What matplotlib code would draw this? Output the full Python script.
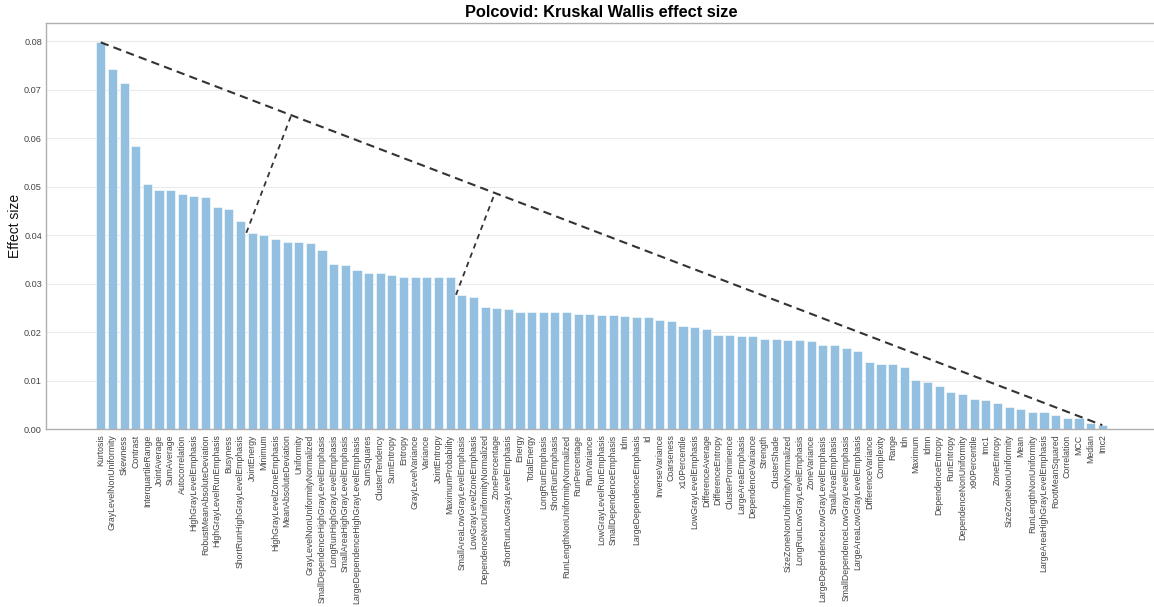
import numpy as np
import matplotlib.pyplot as plt

plt.rcParams['font.family'] = ['Liberation Sans', 'DejaVu Sans']

# Kruskal Wallis effect size per radiomic feature (sorted, descending)
features = [
    'Kurtosis', 'GrayLevelNonUniformity', 'Skewness', 'Contrast', 'InterquartileRange',
    'JointAverage', 'SumAverage', 'Autocorrelation', 'HighGrayLevelEmphasis',
    'RobustMeanAbsoluteDeviation', 'HighGrayLevelRunEmphasis', 'Busyness',
    'ShortRunHighGrayLevelEmphasis', 'JointEnergy', 'Minimum', 'HighGrayLevelZoneEmphasis',
    'MeanAbsoluteDeviation', 'Uniformity', 'GrayLevelNonUniformityNormalized',
    'SmallDependenceHighGrayLevelEmphasis', 'LongRunHighGrayLevelEmphasis',
    'SmallAreaHighGrayLevelEmphasis', 'LargeDependenceHighGrayLevelEmphasis', 'SumSquares',
    'ClusterTendency', 'SumEntropy', 'Entropy', 'GrayLevelVariance', 'Variance',
    'JointEntropy', 'MaximumProbability', 'SmallAreaLowGrayLevelEmphasis',
    'LowGrayLevelZoneEmphasis', 'DependenceNonUniformityNormalized', 'ZonePercentage',
    'ShortRunLowGrayLevelEmphasis', 'Energy', 'TotalEnergy', 'LongRunEmphasis',
    'ShortRunEmphasis', 'RunLengthNonUniformityNormalized', 'RunPercentage', 'RunVariance',
    'LowGrayLevelRunEmphasis', 'SmallDependenceEmphasis', 'Idm', 'LargeDependenceEmphasis',
    'Id', 'InverseVariance', 'Coarseness', 'x10Percentile', 'LowGrayLevelEmphasis',
    'DifferenceAverage', 'DifferenceEntropy', 'ClusterProminence', 'LargeAreaEmphasis',
    'DependenceVariance', 'Strength', 'ClusterShade', 'SizeZoneNonUniformityNormalized',
    'LongRunLowGrayLevelEmphasis', 'ZoneVariance', 'LargeDependenceLowGrayLevelEmphasis',
    'SmallAreaEmphasis', 'SmallDependenceLowGrayLevelEmphasis', 'LargeAreaLowGrayLevelEmphasis',
    'DifferenceVariance', 'Complexity', 'Range', 'Idn', 'Maximum', 'Idmn',
    'DependenceEntropy', 'RunEntropy', 'DependenceNonUniformity', 'x90Percentile', 'Imc1',
    'ZoneEntropy', 'SizeZoneNonUniformity', 'Mean', 'RunLengthNonUniformity',
    'LargeAreaHighGrayLevelEmphasis', 'RootMeanSquared', 'Correlation', 'MCC', 'Median',
    'Imc2',
]

effect_size = [
    0.0798, 0.0743, 0.0714, 0.0584, 0.0505, 0.0493, 0.0493, 0.0485, 0.0481, 0.0479,
    0.0458, 0.0454, 0.0430, 0.0405, 0.0400, 0.0392, 0.0385, 0.0385, 0.0383, 0.0369,
    0.0341, 0.0338, 0.0328, 0.0323, 0.0321, 0.0318, 0.0313, 0.0313, 0.0313, 0.0313,
    0.0313, 0.0277, 0.0273, 0.0251, 0.0249, 0.0248, 0.0242, 0.0242, 0.0241, 0.0241,
    0.0241, 0.0237, 0.0237, 0.0236, 0.0235, 0.0234, 0.0231, 0.0231, 0.0224, 0.0222,
    0.0213, 0.0211, 0.0206, 0.0195, 0.0195, 0.0191, 0.0191, 0.0186, 0.0185, 0.0184,
    0.0184, 0.0181, 0.0173, 0.0173, 0.0168, 0.0162, 0.0139, 0.0134, 0.0134, 0.0129,
    0.0101, 0.0097, 0.0089, 0.0076, 0.0073, 0.0063, 0.0060, 0.0054, 0.0045, 0.0041,
    0.0036, 0.0035, 0.0029, 0.0023, 0.0023, 0.0013, 0.0008,
]

# elbow points (drop happens just before these features)
knee_idx = [13, 31]

vals = np.array(effect_size)
x = np.arange(len(vals))

fig = plt.figure(figsize=(11.54, 6.07), dpi=100)
ax = fig.add_axes([0.0399, 0.2932, 0.9627, 0.6689])

ax.bar(x, vals, width=0.78, color='#93bfe1', edgecolor='white', linewidth=0.4, zorder=2)

ax.set_xlim(-4.7, 90.7)
ax.set_ylim(0, 0.0838)
ax.set_yticks(np.arange(0, 0.081, 0.01))
ax.yaxis.set_major_formatter(plt.FormatStrFormatter('%.2f'))
ax.grid(axis='y', color='#ebebeb', linewidth=0.8, zorder=0)
ax.set_xticks(x)
ax.set_xticklabels(features, rotation=90, fontsize=6.3, color='#444444')
ax.tick_params(axis='y', labelsize=6.6, colors='#444444', length=0, pad=3)
ax.tick_params(axis='x', length=0, pad=4)
for s in ax.spines.values():
    s.set_color('#b0b0b0')
    s.set_linewidth(1.0)

ax.set_ylabel('Effect size', fontsize=10, color='#111111')
ax.yaxis.set_label_coords(-0.0215, 0.5)
ax.set_title('Polcovid: Kruskal Wallis effect size', fontsize=11.8, fontweight='bold', pad=4)

# line from the first to the last bar
ax.plot([x[0], x[-1]], [vals[0], vals[-1]], ls=(0, (4, 2.5)), color='#333333', lw=1.5, zorder=3)

# perpendiculars from the elbow points to that line, in screen space
fig.canvas.draw()
tr = ax.transData
p0 = tr.transform((x[0], vals[0]))
p1 = tr.transform((x[-1], vals[-1]))
d = (p1 - p0) / np.linalg.norm(p1 - p0)
for k in knee_idx:
    q = tr.transform((k - 0.5, vals[k]))
    foot = p0 + np.dot(q - p0, d) * d
    fx, fy = tr.inverted().transform(foot)
    ax.plot([k - 0.5, fx], [vals[k], fy], ls=(0, (3, 2.5)), color='#333333', lw=1.3, zorder=3)

fig.savefig('out.png', dpi=100)
